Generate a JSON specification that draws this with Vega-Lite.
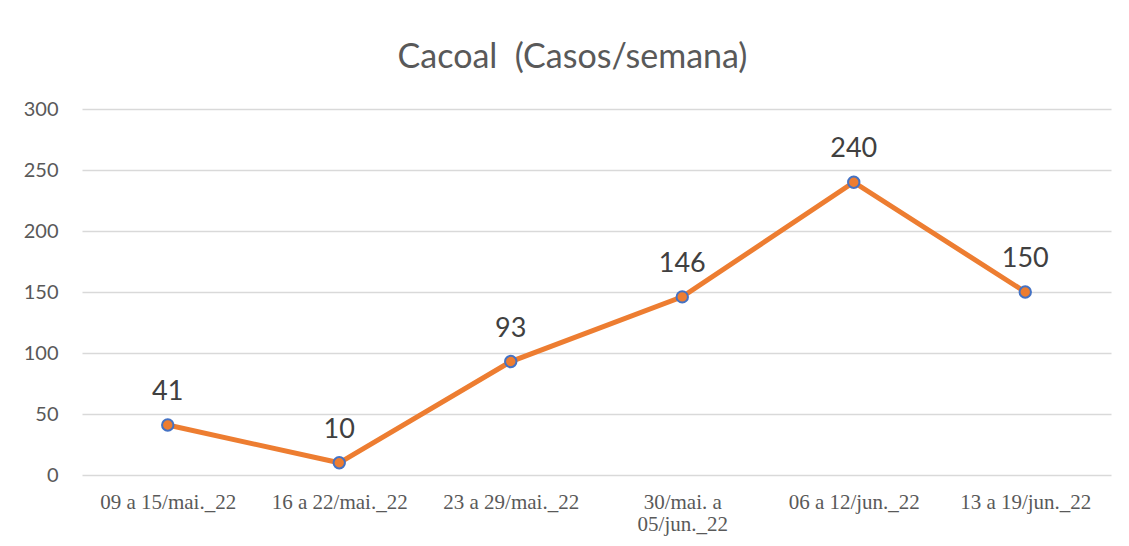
{
  "$schema": "https://vega.github.io/schema/vega-lite/v6.json",
  "width": 1029,
  "height": 366,
  "autosize": {"type": "none"},
  "padding": {"left": 82, "top": 109, "right": 18, "bottom": 71},
  "background": "white",
  "title": {
    "text": "Cacoal\u00a0\u00a0(Casos/semana)",
    "font": "Lato",
    "fontSize": 34,
    "fontWeight": "normal",
    "color": "#595959",
    "offset": 24,
    "anchor": "middle",
    "dx": -24
  },
  "config": {
    "view": {"stroke": null},
    "axis": {"grid": false, "domain": false, "ticks": false}
  },
  "data": {
    "values": [
      {"semana": "09 a 15/mai._22", "casos": 41},
      {"semana": "16 a 22/mai._22", "casos": 10},
      {"semana": "23 a 29/mai._22", "casos": 93},
      {"semana": "30/mai. a|05/jun._22", "casos": 146},
      {"semana": "06 a 12/jun._22", "casos": 240},
      {"semana": "13 a 19/jun._22", "casos": 150}
    ]
  },
  "encoding": {
    "x": {
      "field": "semana",
      "type": "nominal",
      "sort": null,
      "scale": {"type": "point", "padding": 0.5},
      "axis": {
        "title": null,
        "labelAngle": 0,
        "labelFont": "Liberation Serif",
        "labelFontSize": 21,
        "labelColor": "#595959",
        "labelPadding": 16,
        "labelLineHeight": 22,
        "labelExpr": "split(datum.value, '|')"
      }
    },
    "y": {
      "field": "casos",
      "type": "quantitative",
      "scale": {"domain": [0, 300]},
      "axis": {
        "title": null,
        "values": [0, 50, 100, 150, 200, 250, 300],
        "grid": true,
        "gridColor": "#d9d9d9",
        "gridWidth": 1.3,
        "labelFont": "Lato",
        "labelFontSize": 20,
        "labelColor": "#595959",
        "labelPadding": 24
      }
    }
  },
  "layer": [
    {
      "mark": {"type": "line", "color": "#ED7D31", "strokeWidth": 5}
    },
    {
      "mark": {"type": "point", "filled": true, "fill": "#ED7D31", "stroke": "#4472C4", "strokeWidth": 2, "size": 130, "opacity": 1}
    },
    {
      "mark": {"type": "text", "font": "Lato", "fontSize": 27, "color": "#404040", "baseline": "alphabetic", "dy": -25},
      "encoding": {"text": {"field": "casos", "type": "quantitative"}}
    }
  ]
}
